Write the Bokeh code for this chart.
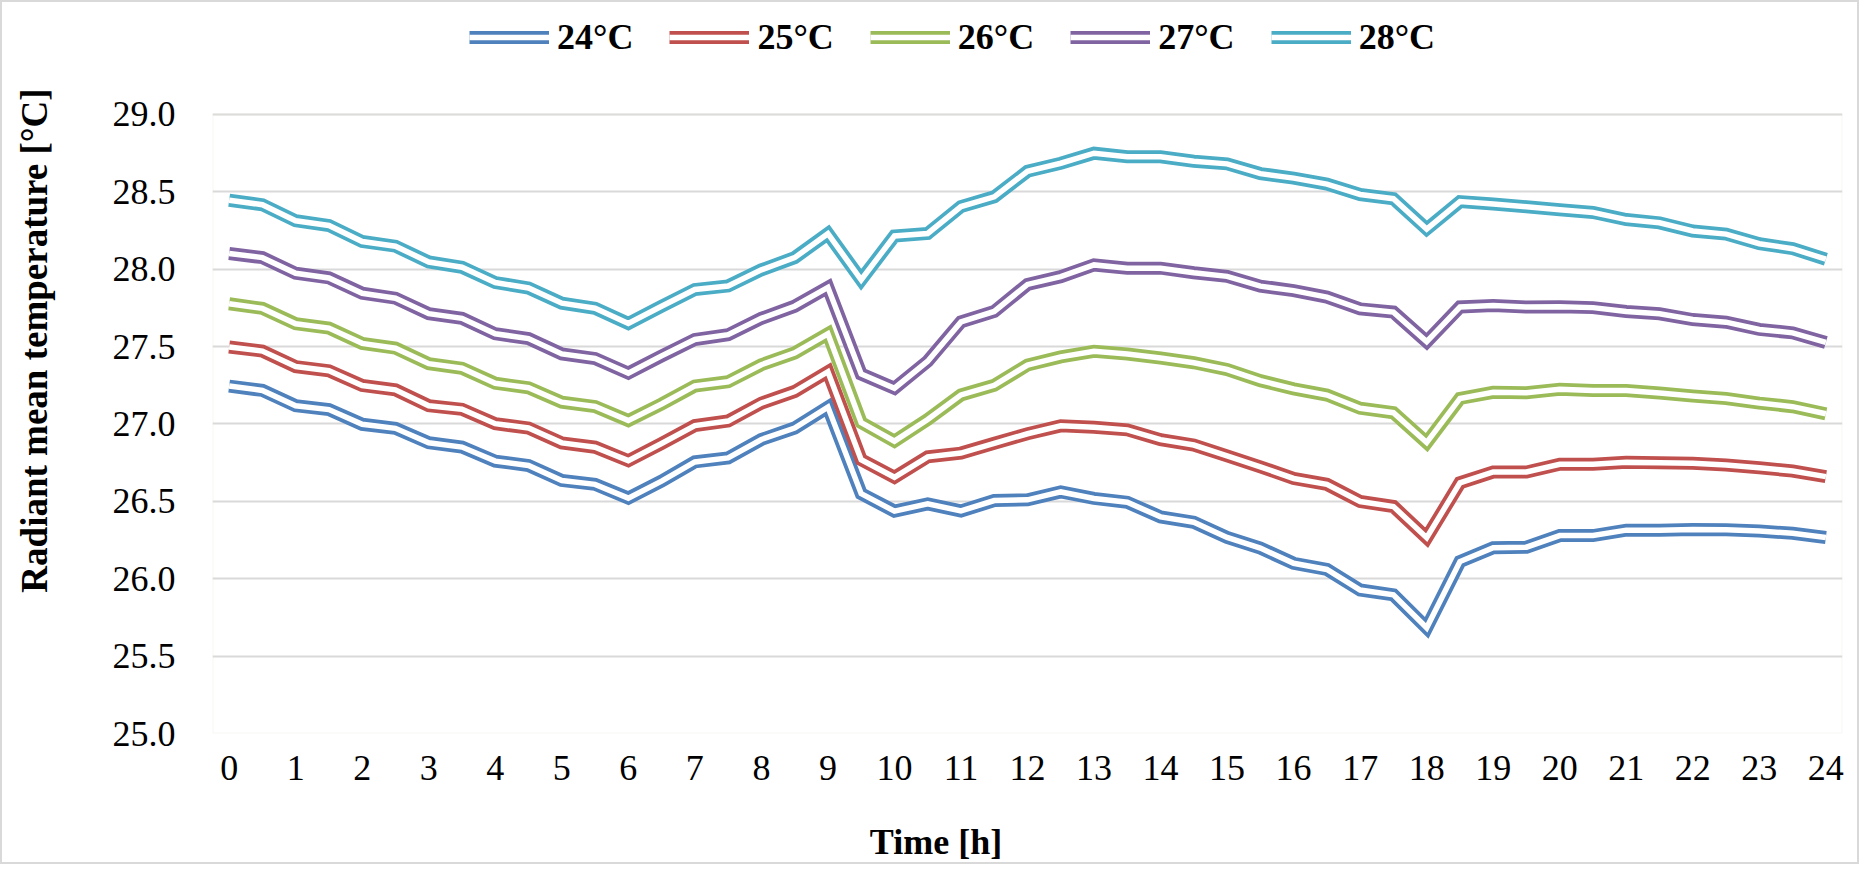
import math
from bokeh.plotting import figure
from bokeh.layouts import row, column
from bokeh.models import (Range1d, FixedTicker, Legend, LegendItem, Label, BoxAnnotation,
                          NumeralTickFormatter, ColumnDataSource)
from bokeh.embed import file_html
from bokeh.resources import INLINE

# ---------------- data ----------------
hours = [i / 2 for i in range(49)]  # 0, 0.5, ..., 24 (category positions)

t24 = [27.245, 27.217, 27.118, 27.093, 26.998, 26.972, 26.879, 26.851, 26.760, 26.732, 26.635, 26.610, 26.521,
       26.631, 26.755, 26.781, 26.900, 26.974, 27.109, 26.550, 26.437, 26.484, 26.438, 26.505, 26.510,
       26.561, 26.519, 26.494, 26.400, 26.365, 26.267, 26.198, 26.100, 26.060, 25.927, 25.896, 25.683,
       26.111, 26.200, 26.204, 26.279, 26.279, 26.314, 26.314, 26.319, 26.316, 26.308, 26.294, 26.267]

t25 = [27.498, 27.471, 27.371, 27.344, 27.249, 27.221, 27.118, 27.095, 27.002, 26.974, 26.878, 26.850, 26.763,
       26.874, 26.990, 27.019, 27.135, 27.210, 27.338, 26.769, 26.656, 26.788, 26.812, 26.875, 26.937,
       26.988, 26.979, 26.962, 26.899, 26.864, 26.794, 26.723, 26.648, 26.610, 26.499, 26.467, 26.265,
       26.620, 26.690, 26.690, 26.740, 26.740, 26.752, 26.750, 26.746, 26.735, 26.717, 26.696, 26.660]

t26 = [27.777, 27.747, 27.648, 27.620, 27.521, 27.490, 27.390, 27.360, 27.263, 27.234, 27.141, 27.113, 27.022,
       27.129, 27.246, 27.273, 27.383, 27.459, 27.583, 27.009, 26.889, 27.029, 27.188, 27.250, 27.381,
       27.434, 27.470, 27.452, 27.426, 27.396, 27.352, 27.280, 27.227, 27.187, 27.102, 27.073, 26.880,
       27.165, 27.205, 27.202, 27.225, 27.216, 27.216, 27.200, 27.181, 27.165, 27.135, 27.112, 27.066]

t27 = [28.102, 28.075, 27.974, 27.944, 27.845, 27.813, 27.713, 27.683, 27.583, 27.552, 27.453, 27.423, 27.329,
       27.440, 27.546, 27.577, 27.683, 27.761, 27.883, 27.323, 27.231, 27.406, 27.660, 27.727, 27.902,
       27.952, 28.028, 28.007, 28.007, 27.977, 27.954, 27.891, 27.862, 27.820, 27.744, 27.723, 27.532,
       27.756, 27.765, 27.756, 27.758, 27.752, 27.727, 27.712, 27.675, 27.658, 27.611, 27.589, 27.527]

t28 = [28.446, 28.417, 28.313, 28.283, 28.179, 28.149, 28.047, 28.013, 27.914, 27.879, 27.781, 27.748, 27.650,
       27.761, 27.869, 27.892, 27.996, 28.075, 28.230, 27.932, 28.215, 28.231, 28.405, 28.468, 28.633,
       28.685, 28.750, 28.727, 28.727, 28.698, 28.681, 28.618, 28.589, 28.550, 28.483, 28.456, 28.260,
       28.437, 28.422, 28.404, 28.385, 28.367, 28.321, 28.300, 28.247, 28.227, 28.165, 28.133, 28.065]

series_names = ["24°C", "25°C", "26°C", "27°C", "28°C"]
series_values = [t24, t25, t26, t27, t28]
series_colors = ["#4F81BD", "#C0504D", "#9BBB59", "#8064A2", "#4BACC6"]

x_ticks = list(range(25))
y_ticks = [25.0, 25.5, 26.0, 26.5, 27.0, 27.5, 28.0, 28.5, 29.0]

y_title = "Radiant mean temperature [°C]"
x_title = "Time [h]"

FONT = "Liberation Serif"


def blank(w, h):
    f = figure(width=w, height=h, output_backend="svg", toolbar_location=None,
               x_range=Range1d(0, w), y_range=Range1d(0, h),
               x_axis_type=None, y_axis_type=None,
               min_border_left=0, min_border_right=0, min_border_top=0, min_border_bottom=0)
    f.outline_line_color = None
    f.background_fill_color = "white"
    f.border_fill_color = "white"
    return f


# ---------------- main figure ----------------
# frame extends up to the top so the legend can sit inside it; 29.0 stays at the plot-area top
p = figure(width=1800, height=800, output_backend="svg", toolbar_location=None,
           x_range=Range1d(-0.25, 24.25), y_range=Range1d(25, 29.7237),
           min_border_left=155, min_border_right=15, min_border_top=0, min_border_bottom=69)
p.background_fill_color = "white"
p.border_fill_color = "white"
p.outline_line_color = None

p.xgrid.visible = False
p.ygrid.grid_line_color = "#D9D9D9"
p.ygrid.grid_line_width = 2
p.ygrid.ticker = FixedTicker(ticks=y_ticks)

# faint plot-area border
p.add_layout(BoxAnnotation(left=-0.25, right=24.25, bottom=25, top=29,
                           fill_alpha=0, line_color="#E6E4DC", line_width=2))

p.xaxis.ticker = FixedTicker(ticks=x_ticks)
p.yaxis.ticker = FixedTicker(ticks=y_ticks)
p.yaxis.formatter = NumeralTickFormatter(format="0.0")
for ax in (p.xaxis, p.yaxis):
    ax.axis_line_color = None
    ax.major_tick_line_color = None
    ax.minor_tick_line_color = None
    ax.major_label_text_font = FONT
    ax.major_label_text_font_size = "36px"
    ax.major_label_text_color = "black"
p.xaxis.major_label_standoff = 16
p.yaxis.major_label_standoff = 31

items = []
for name, vals, col in zip(series_names, series_values, series_colors):
    src = ColumnDataSource(dict(x=hours, y=vals))
    r1 = p.line("x", "y", source=src, line_color=col, line_width=13, line_join="miter")
    r2 = p.line("x", "y", source=src, line_color="white", line_width=5.5, line_join="miter")
    items.append(LegendItem(label=name, renderers=[r1, r2]))

legend = Legend(items=items, orientation="horizontal", location=(257, 675),
                glyph_width=80, glyph_height=36, label_standoff=8, spacing=36,
                padding=0, margin=0, border_line_color=None, background_fill_alpha=0,
                label_text_font=FONT, label_text_font_style="bold",
                label_text_font_size="36px", label_text_color="black")
p.add_layout(legend, "center")

# ---------------- axis titles ----------------
yt = blank(55, 860)
yt.add_layout(Label(x=32, y=522, text=y_title, angle=math.pi / 2,
                    text_align="center", text_baseline="middle",
                    text_font=FONT, text_font_style="bold", text_font_size="37px",
                    text_color="black"))
xt = blank(1800, 60)
xt.add_layout(Label(x=799, y=21, text=x_title,
                    text_align="center", text_baseline="middle",
                    text_font=FONT, text_font_style="bold", text_font_size="36px",
                    text_color="black"))

lay = row(yt, column(p, xt, spacing=0), spacing=0)
lay.styles = {"border": "2px solid #D9D9D9", "background-color": "white"}

open("out.html", "w").write(file_html(lay, INLINE))
